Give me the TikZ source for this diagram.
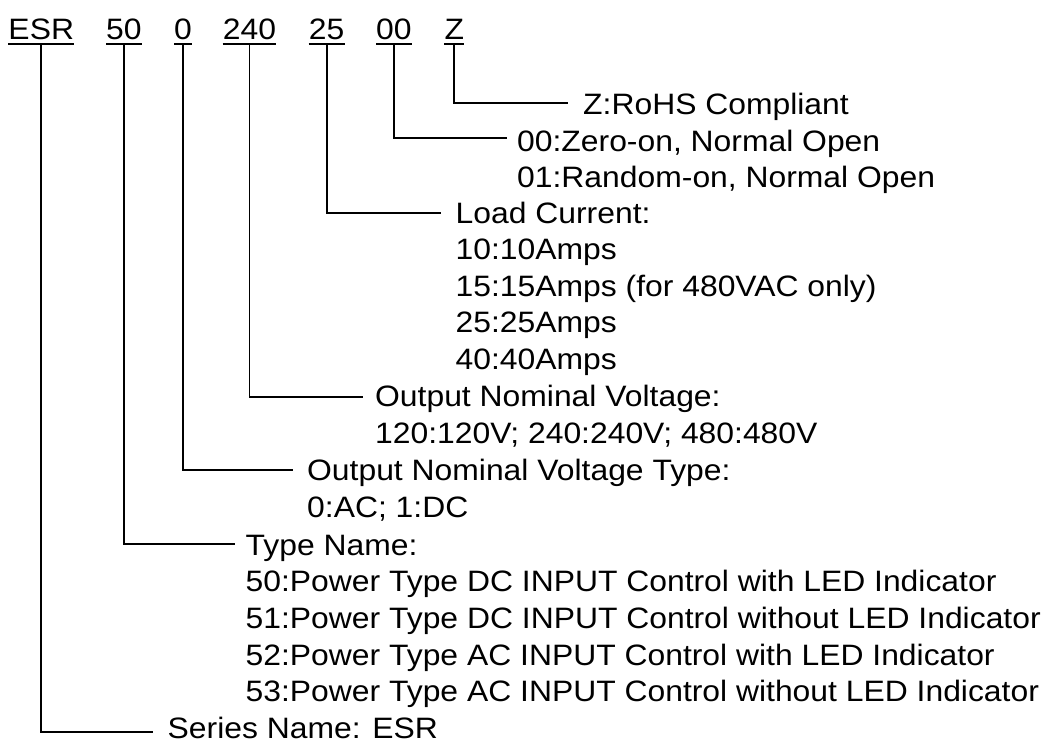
\documentclass[tikz,border=0pt]{standalone}
\usepackage{fontspec}
\setmainfont{Liberation Sans}[FakeStretch=1.08]
\begin{document}
\begin{tikzpicture}[x=1pt,y=-1pt]
\tikzset{
  lbl/.style={anchor=base west, inner sep=0pt, font=\fontsize{29.5}{36.5}\selectfont},
  code/.style={lbl, inner ysep=4.4pt, text depth=0pt},
  conn/.style={line width=1.8pt},
  uline/.style={line width=2pt}
}
\useasboundingbox[fill=white] (0,0) rectangle (1048,740);
% code letters
\node[code] (esr) at (8.3,39.3) {ESR};
\node[code] (n50) at (106,39.3) {50};
\node[code] (n0) at (174,39.3) {0};
\node[code] (n240) at (222.7,39.3) {240};
\node[code] (n25) at (308.7,39.3) {25};
\node[code] (n00) at (376,39.3) {00};
\node[code] (nz) at (444.3,39.3) {Z};
\foreach \n in {esr,n50,n0,n240,n25,n00,nz}
  \draw[uline] (\n.south west) -- (\n.south east);
% connector ends
\coordinate (ez) at (568.3,102.7);
\coordinate (e00) at (506.7,137.7);
\coordinate (e25) at (440.7,212.7);
\coordinate (e240) at (363.3,397.3);
\coordinate (e0) at (293.3,470);
\coordinate (e50) at (235,544);
\coordinate (eesr) at (152.7,731.7);
\draw[conn] (nz.south) |- (ez);
\draw[conn] (n00.south) |- (e00);
\draw[conn] (n25.south) |- (e25);
\draw[conn] (n240.south) |- (e240);
\draw[conn] (n0.south) |- (e0);
\draw[conn] (n50.south) |- (e50);
\draw[conn] (esr.south) |- (eesr);
% descriptions
\node[lbl] (tz) at (583,114) {Z:RoHS Compliant};
\node[lbl] (t00a) at (517,151.3) {00:Zero-on, Normal Open};
\node[lbl] (t00b) at (517,187.7) {01:Random-on, Normal Open};
\node[lbl] (t25a) at (455.5,223) {Load Current:};
\node[lbl] (t25b) at (455.5,259.5) {10:10Amps};
\node[lbl] (t25c) at (455.5,296) {15:15Amps (for 480VAC only)};
\node[lbl] (t25d) at (455.5,332.5) {25:25Amps};
\node[lbl] (t25e) at (455.5,369) {40:40Amps};
\node[lbl] (t240a) at (375,406.7) {Output Nominal Voltage:};
\node[lbl] (t240b) at (375,443.3) {120:120V; 240:240V; 480:480V};
\node[lbl] (t0a) at (307,480) {Output Nominal Voltage Type:};
\node[lbl] (t0b) at (307,517) {0:AC; 1:DC};
\node[lbl] (t50a) at (245.5,555) {Type Name:};
\node[lbl] (t50b) at (245.5,591.7) {50:Power Type DC INPUT Control with LED Indicator};
\node[lbl] (t50c) at (245.5,628.3) {51:Power Type DC INPUT Control without LED Indicator};
\node[lbl] (t50d) at (245.5,665) {52:Power Type AC INPUT Control with LED Indicator};
\node[lbl] (t50e) at (245.5,701.7) {53:Power Type AC INPUT Control without LED Indicator};
\node[lbl] (tesr) at (167.5,738.3) {Series Name: ESR};
\end{tikzpicture}
\end{document}
